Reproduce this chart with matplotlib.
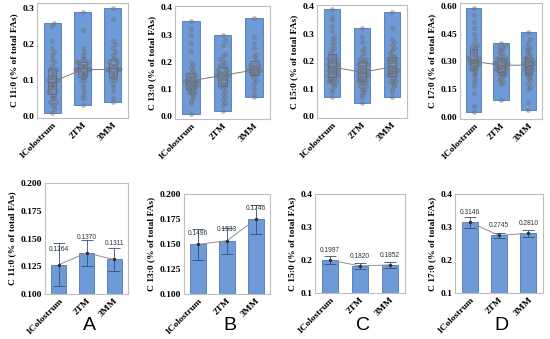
import numpy as np
import matplotlib
matplotlib.use("Agg")
import matplotlib.pyplot as plt

groups = ["1Colostrum", "2TM", "3MM"]
ylabels = ["C 11:0 (% of total FAs)", "C 13:0 (% of total FAs)",
           "C 15:0 (% of total FAs)", "C 17:0 (% of total FAs)"]
panel_letters = ["A", "B", "C", "D"]

# top row: floating range bars (min, max)
range_min = [[0.01, 0.03, 0.04], [0.01, 0.02, 0.07], [0.07, 0.05, 0.07], [0.03, 0.09, 0.04]]
range_max = [[0.26, 0.29, 0.30], [0.35, 0.30, 0.36], [0.39, 0.32, 0.38], [0.59, 0.40, 0.46]]

# top row: individual observations
c11_col = [0.01,0.02,0.03,0.03,0.04,0.04,0.05,0.05,0.06,0.06,0.07,0.07,0.07,0.08,0.08,0.08,0.09,0.09,0.09,0.10,0.10,0.10,0.11,0.11,0.11,0.12,0.12,0.13,0.13,0.14,0.15,0.16,0.17,0.18,0.19,0.21,0.25,0.26]
c11_tm = [0.03,0.05,0.06,0.07,0.08,0.09,0.10,0.10,0.11,0.11,0.12,0.12,0.12,0.12,0.13,0.13,0.13,0.13,0.13,0.14,0.14,0.14,0.14,0.15,0.15,0.15,0.16,0.16,0.17,0.18,0.19,0.24,0.29]
c11_mm = [0.04,0.05,0.07,0.08,0.09,0.10,0.10,0.11,0.11,0.12,0.12,0.12,0.13,0.13,0.13,0.13,0.13,0.14,0.14,0.14,0.15,0.15,0.16,0.16,0.17,0.18,0.19,0.20,0.21,0.27,0.30]
c13_col = [0.01,0.05,0.06,0.07,0.08,0.08,0.09,0.09,0.10,0.10,0.10,0.11,0.11,0.11,0.12,0.12,0.12,0.12,0.13,0.13,0.13,0.13,0.14,0.14,0.14,0.15,0.15,0.16,0.17,0.18,0.19,0.20,0.24,0.27,0.30,0.32,0.35]
c13_tm = [0.02,0.04,0.05,0.06,0.07,0.08,0.09,0.10,0.11,0.11,0.12,0.12,0.13,0.13,0.14,0.14,0.14,0.15,0.15,0.15,0.15,0.16,0.16,0.16,0.17,0.17,0.18,0.18,0.19,0.20,0.20,0.21,0.22,0.23,0.26,0.28,0.30]
c13_mm = [0.07,0.08,0.10,0.12,0.13,0.14,0.15,0.15,0.16,0.16,0.16,0.17,0.17,0.17,0.17,0.18,0.18,0.18,0.19,0.19,0.20,0.21,0.22,0.23,0.25,0.27,0.29,0.36]
c15_col = [0.07,0.09,0.10,0.11,0.12,0.12,0.13,0.13,0.13,0.14,0.14,0.14,0.15,0.15,0.15,0.16,0.16,0.16,0.17,0.17,0.17,0.18,0.18,0.18,0.19,0.19,0.19,0.20,0.20,0.20,0.21,0.21,0.22,0.22,0.23,0.24,0.25,0.26,0.27,0.28,0.29,0.31,0.33,0.35,0.36,0.39]
c15_tm = [0.05,0.07,0.08,0.09,0.10,0.10,0.11,0.11,0.12,0.12,0.13,0.13,0.13,0.14,0.14,0.14,0.15,0.15,0.15,0.16,0.16,0.16,0.17,0.17,0.17,0.18,0.18,0.18,0.19,0.19,0.19,0.20,0.20,0.21,0.21,0.22,0.23,0.24,0.25,0.27,0.29,0.32]
c15_mm = [0.07,0.09,0.10,0.11,0.12,0.12,0.13,0.13,0.14,0.14,0.15,0.15,0.15,0.16,0.16,0.16,0.17,0.17,0.17,0.18,0.18,0.18,0.19,0.19,0.20,0.20,0.20,0.21,0.21,0.22,0.22,0.23,0.24,0.25,0.26,0.27,0.28,0.32,0.38]
c17_col = [0.03,0.06,0.13,0.17,0.19,0.20,0.22,0.23,0.24,0.25,0.26,0.27,0.27,0.28,0.28,0.29,0.29,0.30,0.30,0.30,0.31,0.31,0.32,0.32,0.33,0.34,0.35,0.36,0.37,0.38,0.39,0.40,0.42,0.45,0.48,0.51,0.55,0.59]
c17_tm = [0.09,0.18,0.19,0.20,0.21,0.22,0.23,0.23,0.24,0.24,0.25,0.25,0.26,0.26,0.26,0.27,0.27,0.27,0.28,0.28,0.28,0.29,0.29,0.29,0.30,0.30,0.31,0.31,0.32,0.32,0.33,0.34,0.35,0.36,0.37,0.38,0.39,0.40]
c17_mm = [0.04,0.08,0.15,0.16,0.18,0.20,0.21,0.22,0.23,0.24,0.25,0.25,0.26,0.26,0.27,0.27,0.28,0.28,0.28,0.29,0.29,0.30,0.30,0.31,0.31,0.32,0.33,0.34,0.35,0.36,0.37,0.38,0.40,0.42,0.46]
observations = [[c11_col, c11_tm, c11_mm], [c13_col, c13_tm, c13_mm],
                [c15_col, c15_tm, c15_mm], [c17_col, c17_tm, c17_mm]]

# bottom row: means and errors
means = [[0.1264, 0.1370, 0.1311], [0.1496, 0.1533, 0.1746],
         [0.1997, 0.1820, 0.1852], [0.3146, 0.2745, 0.2810]]
errors = [[0.0195, 0.0120, 0.0100], [0.0155, 0.0130, 0.0145],
          [0.0130, 0.0080, 0.0090], [0.0170, 0.0080, 0.0110]]

# ---------------- layout ----------------
W, H = 550, 339
top_rects = [(37, 3, 128, 118), (175, 6, 270, 119), (317, 5, 407, 118), (460, 3, 542, 119)]
bot_rects = [(45, 183, 128, 294), (184, 194, 270, 294), (315, 194, 405, 293), (455, 194, 543, 293)]
top_ylims = [(-0.005, 0.315), (-0.01, 0.405), (-0.006, 0.405), (-0.01, 0.615)]
top_yticks = [[0.0, 0.1, 0.2, 0.3], [0.0, 0.1, 0.2, 0.3, 0.4], [0.0, 0.1, 0.2, 0.3, 0.4],
              [0.0, 0.15, 0.30, 0.45, 0.60]]
top_fmt = ["%.1f", "%.1f", "%.1f", "%.2f"]
bot_ylims = [(0.1, 0.2), (0.1, 0.2), (0.1, 0.4), (0.1, 0.4)]
bot_yticks = [[0.100, 0.125, 0.150, 0.175, 0.200], [0.100, 0.125, 0.150, 0.175, 0.200],
              [0.1, 0.2, 0.3, 0.4], [0.1, 0.2, 0.3, 0.4]]
bot_fmt = ["%.3f", "%.3f", "%.1f", "%.1f"]
label_offsets = [0.014, 0.011, 0.029, 0.029]

BAR = "#6e9bd8"
BAR_EDGE = "#4d78b8"
SPINE = "#bfbfbf"
serif = ["Liberation Serif", "DejaVu Serif"]
sans = ["Liberation Sans", "DejaVu Sans"]
FS = 6.8


def rect(r):
    x0, y0, x1, y1 = r
    return [x0 / W, 1 - y1 / H, (x1 - x0) / W, (y1 - y0) / H]


def swarm_offsets(vals, binw, step, maxoff):
    vals = np.asarray(vals)
    offs = np.zeros(len(vals))
    bins = np.round(vals / binw).astype(int)
    counts = {}
    for i, b in enumerate(bins):
        k = counts.get(b, 0)
        counts[b] = k + 1
        mag = (k + 1) // 2
        sign = 1 if k % 2 == 1 else -1
        offs[i] = min(mag * step, maxoff) * sign
    return offs


def style_axes(ax, fmt):
    for s in ax.spines.values():
        s.set_color(SPINE)
        s.set_linewidth(0.8)
    ax.tick_params(axis="both", length=0, pad=2)
    ax.set_xlim(-0.5, 2.5)
    ax.set_xticks(range(3))
    ax.set_xticklabels(groups, rotation=45, ha="right", rotation_mode="anchor",
                       family=serif, fontweight="bold", fontsize=FS)
    ax.yaxis.set_major_formatter(matplotlib.ticker.FormatStrFormatter(fmt))
    for t in ax.get_yticklabels():
        t.set_family(serif)
        t.set_fontweight("bold")
        t.set_fontsize(FS)


fig = plt.figure(figsize=(W / 100, H / 100), dpi=100)
x = np.arange(3)

for p in range(4):
    # top panels
    ax = fig.add_axes(rect(top_rects[p]))
    lo = np.array(range_min[p])
    hi = np.array(range_max[p])
    ax.bar(x, hi - lo, bottom=lo, width=0.55, color=BAR, edgecolor=BAR_EDGE, linewidth=0.6, zorder=1)
    yr = top_ylims[p][1] - top_ylims[p][0]
    ax.boxplot(observations[p], positions=x, widths=0.28, whis=0, showfliers=False,
               showcaps=False, patch_artist=False,
               boxprops=dict(color="#3c3c3c", linewidth=0.6, alpha=0.45),
               medianprops=dict(color="#3c3c3c", linewidth=0.6, alpha=0.45),
               whiskerprops=dict(linewidth=0), manage_ticks=False, zorder=2)
    for i, vals in enumerate(observations[p]):
        offs = swarm_offsets(vals, yr * 0.05, 0.065, 0.24)
        ax.scatter(x[i] + offs, vals, s=8, facecolor="#7a7a7a", edgecolor="#555555",
                   linewidth=0.3, alpha=0.5, zorder=3)
    meds = [np.median(v) for v in observations[p]]
    ax.plot(x, meds, color="#7a7a7a", linewidth=0.7, zorder=4)
    ax.set_ylim(*top_ylims[p])
    ax.set_yticks(top_yticks[p])
    style_axes(ax, top_fmt[p])
    ax.set_ylabel(ylabels[p], family=serif, fontweight="bold", fontsize=FS, labelpad=3)

    # bottom panels
    ax = fig.add_axes(rect(bot_rects[p]))
    m = np.array(means[p])
    e = np.array(errors[p])
    ax.bar(x, m - bot_ylims[p][0], bottom=bot_ylims[p][0], width=0.55, color=BAR,
           edgecolor=BAR_EDGE, linewidth=0.6, zorder=1)
    ax.errorbar(x, m, yerr=e, fmt="none", ecolor="#2f4f7f", elinewidth=0.6,
                capsize=4, capthick=0.6, zorder=3)
    ax.plot(x, m, color="#909090", linewidth=0.7, marker="o", markersize=1.5,
            markerfacecolor="#333333", markeredgecolor="#333333", zorder=4)
    for i in range(3):
        ax.text(x[i], m[i] + label_offsets[p], "%.4f" % m[i], ha="center", va="center",
                family=sans, fontsize=4.8, color="#333333", zorder=5)
    ax.set_ylim(*bot_ylims[p])
    ax.set_yticks(bot_yticks[p])
    style_axes(ax, bot_fmt[p])
    ax.set_ylabel(ylabels[p], family=serif, fontweight="bold", fontsize=FS, labelpad=3)

    x0, _, x1, _ = bot_rects[p]
    fig.text((x0 + x1) / 2 / W + 0.005, 1 - 326 / H, panel_letters[p], ha="center", va="center",
             family=sans, fontsize=14)

fig.savefig("out.png", dpi=100)
